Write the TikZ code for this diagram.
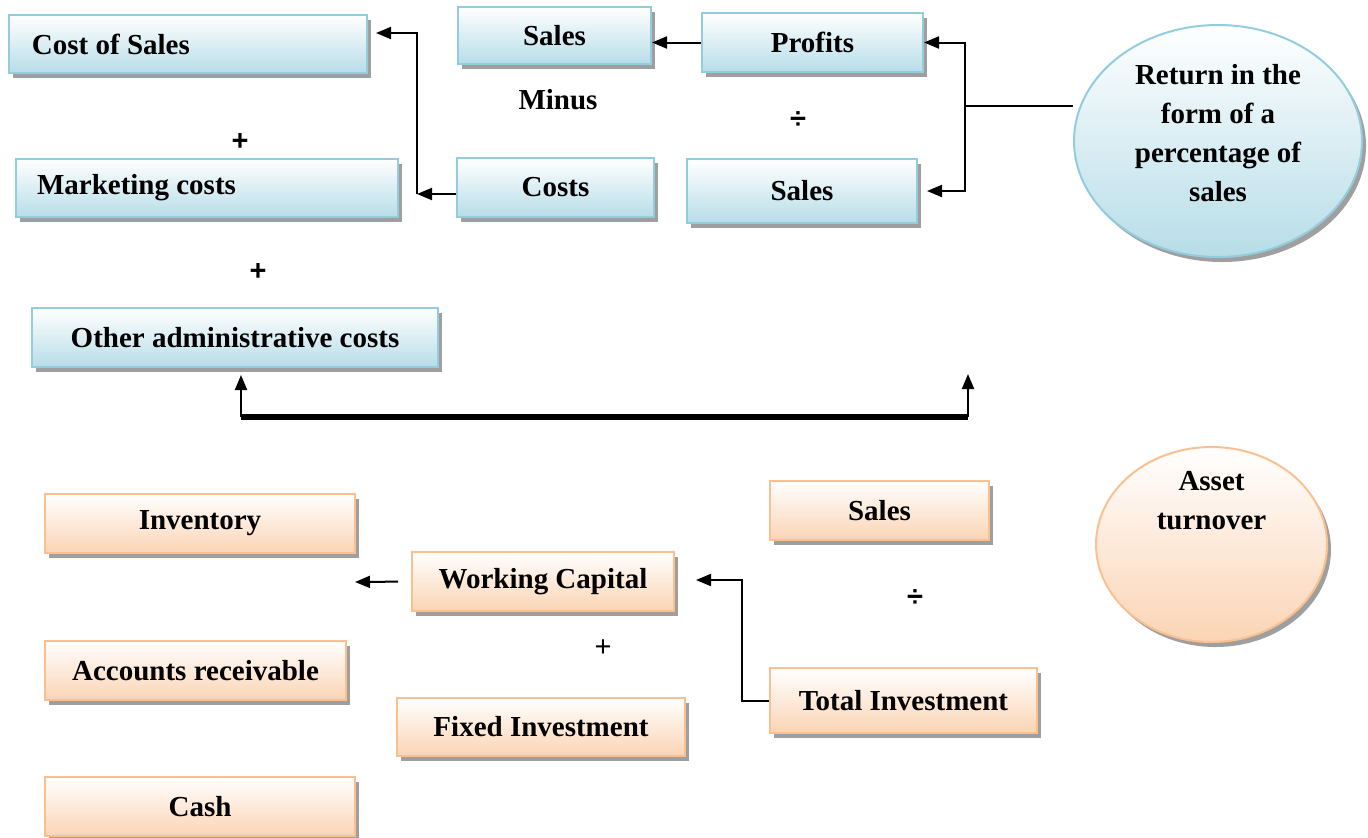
\documentclass[tikz,border=0pt]{standalone}
\usepackage{fontspec}
\setmainfont{Liberation Serif}
\newfontfamily\opfont{Liberation Sans}
\usetikzlibrary{arrows.meta,shapes.geometric,shadows}
\definecolor{blueedge}{HTML}{93CDDD}
\definecolor{bluefill}{HTML}{B7DDE8}
\definecolor{orangeedge}{HTML}{FAC090}
\definecolor{orangefill}{HTML}{FBD4B4}
\tikzset{
  card/.style={draw, line width=1pt, inner sep=0pt, font=\fontsize{14.5}{19.5}\selectfont\bfseries,
    drop shadow={shadow xshift=2pt, shadow yshift=-2.5pt, fill=gray!75, opacity=1}},
  bluecard/.style={card, draw=blueedge, top color=white, bottom color=bluefill},
  orangecard/.style={card, draw=orangeedge, top color=white, bottom color=orangefill},
  blueoval/.style={bluecard, ellipse},
  orangeoval/.style={orangecard, ellipse},
  word/.style={font=\fontsize{14.5}{19.5}\selectfont\bfseries},
  op/.style={font=\opfont\fontsize{14.5}{17}\selectfont\bfseries},
  link/.style={line width=1pt},
}
\begin{document}
\begin{tikzpicture}[x=0.5pt, y=-0.5pt, >={Triangle[length=7.5pt,width=6pt]}]
    \useasboundingbox (0,0) rectangle (1368,837);
    \node[bluecard, minimum width=179pt, minimum height=29pt, inner xsep=11.5pt, text width=156pt, align=flush left] (cos) at (188,44) {Cost of Sales};
    \node[bluecard, minimum width=191pt, minimum height=29pt, inner xsep=10.5pt, text width=170pt, align=flush left] (mkt) at (207,188) {Marketing costs};
    \node[bluecard, minimum width=203pt, minimum height=29.5pt] (adm) at (235,337.5) {Other administrative costs};
    \node[bluecard, minimum width=96.5pt, minimum height=28.5pt] (sal1) at (554.5,35.5) {Sales};
    \node[bluecard, minimum width=110.5pt, minimum height=29.5pt] (prof) at (812.5,42.5) {Profits};
    \node[bluecard, minimum width=98.5pt, minimum height=29.5pt] (costs) at (555.5,187.5) {Costs};
    \node[bluecard, minimum width=115pt, minimum height=32pt] (sal2) at (802,191) {Sales};
    \node[blueoval, minimum width=144pt, minimum height=116pt,
      label={[word, align=center, yshift=4pt]center:Return in the\\form of a\\percentage of\\sales}] (ret) at (1218,141) {};

    \node[orangecard, minimum width=155pt, minimum height=29.5pt] (inv) at (200,523.5) {Inventory};
    \node[orangecard, minimum width=131pt, minimum height=29.5pt] (wc) at (543,581.5) {Working Capital};
    \node[orangecard, minimum width=150.5pt, minimum height=29.5pt] (ar) at (195.5,670.5) {Accounts receivable};
    \node[orangecard, minimum width=144pt, minimum height=29pt] (fi) at (541,727) {Fixed Investment};
    \node[orangecard, minimum width=155pt, minimum height=29.5pt] (cash) at (200,806.5) {Cash};
    \node[orangecard, minimum width=109.5pt, minimum height=29.5pt] (sal3) at (879.5,510.5) {Sales};
    \node[orangecard, minimum width=133.5pt, minimum height=32.5pt] (ti) at (903.5,700.5) {Total Investment};
    \node[orangeoval, minimum width=115.5pt, minimum height=97.5pt,
      label={[word, align=center, yshift=22pt]center:Asset\\turnover}] (turn) at (1211.5,544.5) {};

    \node[op] (plusa) at (240,142) {+};
    \node[op] (plusb) at (258,272) {+};
    \node[word] (minus) at (558,100) {Minus};
    \node[op] (diva) at (798,120) {÷};
    \node[op] (divb) at (915,598) {÷};
    \node[op, font=\opfont\fontsize{14.5}{17}\selectfont] (plusc) at (603,648) {+};

    \coordinate (lj) at (417,194);
    \coordinate (lt) at (417,33);
    \coordinate (rj) at (965,106);
    \coordinate (bl) at (241,417);
    \coordinate (br) at (968,417);
    \coordinate (bt) at (968,374);
    \coordinate (wl) at (355,582);
    \coordinate (tj) at (742,580);

    \draw[link, ->] (prof.west) -- (prof.west -| sal1.east);
    \draw[link, ->] (costs.west |- lj) -- (lj);
    \draw[link, ->, shorten >=4pt] (lj) -- (lt) -- (lt -| cos.east);
    \draw[link, ->] (rj) |- (prof.east);
    \draw[link, ->, shorten >=4.5pt] (rj) |- (sal2.east);
    \draw[link] (rj) -- (rj -| ret.west);
    \draw[link, ->, shorten >=3.5pt] (bl) -- (bl |- adm.south);
    \draw[line width=3pt] (bl) -- (br);
    \draw[link, ->] (br) -- (bt);
    \draw[link, ->, shorten <=6.5pt] (wc.west) -- (wl);
    \draw[link, ->, shorten >=10.5pt] (ti.west) -| (tj) -- (tj -| wc.east);
\end{tikzpicture}
\end{document}
